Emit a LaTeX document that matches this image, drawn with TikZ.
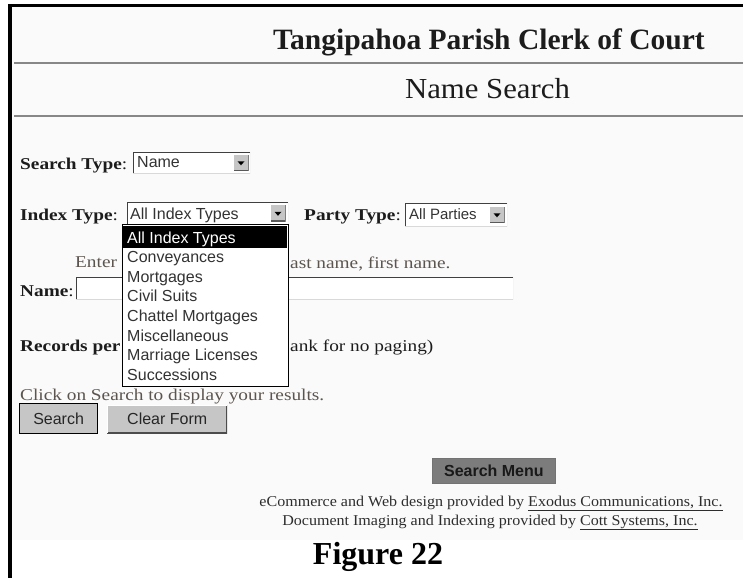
\documentclass[tikz,border=0pt]{standalone}
\usepackage{fontspec}
\setmainfont{Liberation Serif}
\newfontfamily\bodyf[FakeStretch=1.17]{Liberation Serif}
\newfontfamily\footf[FakeStretch=1.07]{Liberation Serif}
\newfontfamily\headf[FakeStretch=1.06]{Liberation Serif}
\newfontfamily\uisans{Liberation Sans}
\definecolor{scr}{RGB}{250,250,250}
\definecolor{hrc}{RGB}{135,135,135}
\definecolor{txt}{RGB}{28,28,28}
\definecolor{hint}{RGB}{92,84,78}
\definecolor{btn}{RGB}{198,198,198}
\definecolor{menubtn}{RGB}{124,124,124}
\definecolor{itemc}{RGB}{50,50,50}
\definecolor{footc}{RGB}{45,45,45}
\begin{document}
\begin{tikzpicture}[x=1pt,y=-1pt,
  lbl/.style={anchor=base west, inner sep=0, text=txt, font=\bodyf\fontsize{16.5}{18}\selectfont},
  hinttext/.style={lbl, text=hint},
  item/.style={anchor=base west, inner sep=0, text=itemc, font=\uisans\fontsize{16}{18}\selectfont},
  combo/.style={anchor=north west, fill=white, inner sep=0, draw=none,
    path picture={\draw[black!75,line width=1.6] (path picture bounding box.south west) -- (path picture bounding box.north west) -- (path picture bounding box.north east);
                  \draw[black!15,line width=1] (path picture bounding box.north east) -- (path picture bounding box.south east) -- (path picture bounding box.south west);}},
  arrowbtn/.style={fill=btn, inner sep=0, minimum width=15, minimum height=16,
    path picture={\draw[black!65,line width=1.2] (path picture bounding box.north east) -- (path picture bounding box.south east) -- (path picture bounding box.south west);
                  \fill[black, shift={(path picture bounding box.center)}] (-3.5,-1.2) -- (3.5,-1.2) -- (0,2.8) -- cycle;}},
  button/.style={fill=btn, inner sep=0, text=black!85, font=\uisans\fontsize{16}{18}\selectfont,
    path picture={\draw[black!70,line width=2] (path picture bounding box.north east) -- (path picture bounding box.south east) -- (path picture bounding box.south west);
                  \draw[white,line width=1.2] (path picture bounding box.south west) -- (path picture bounding box.north west) -- (path picture bounding box.north east);}},
  hrule/.style={hrc, line width=2.4}
]
\useasboundingbox (0,0) rectangle (743,578);
% page and frame
\fill[white] (0,0) rectangle (743,578);
\fill[scr] (12,7) rectangle (743,540);
\fill[black] (8,4) rectangle (743,7);
\fill[black] (8,4) rectangle (12,578);

% headings
\node[anchor=base, inner sep=0, text=txt, font=\bfseries\fontsize{29.5}{32}\selectfont] (title) at (489,49) {Tangipahoa Parish Clerk of Court};
\coordinate (h1a) at (14,63); \coordinate (h1b) at (743,63);
\draw[hrule] (h1a) -- (h1b);
\node[anchor=base, inner sep=0, text=txt, font=\headf\fontsize{29}{32}\selectfont] (subtitle) at (487.5,98) {Name Search};
\coordinate (h2a) at (14,116); \coordinate (h2b) at (743,116);
\draw[hrule] (h2a) -- (h2b);

% search type
\node[lbl] (stlbl) at (20,169) {\textbf{Search Type}:};
\node[combo, minimum width=117, minimum height=21] (stbox) at (133,152) {};
\node[item, text=black!80] (sttxt) at (137,167) {Name};
\node[arrowbtn] (starr) at (241,162.5) {};

% index type / party type
\node[lbl] (itlbl) at (20,220) {\textbf{Index Type}:};
\node[combo, minimum width=161, minimum height=22] (itbox) at (127,202) {};
\node[item, text=black!80] (ittxt) at (130,219) {All Index Types};
\node[arrowbtn] (itarr) at (278,213) {};

\node[lbl] (ptlbl) at (304,220) {\textbf{Party Type}:};
\node[combo, minimum width=102, minimum height=23] (ptbox) at (405,203) {};
\node[item, text=black!80, font=\uisans\fontsize{15}{17}\selectfont] (pttxt) at (409,219) {All Parties};
\node[arrowbtn] (ptarr) at (497,214.5) {};

% texts partly hidden behind the list
\node[hinttext] (enter1) at (75,267) {Enter};
\node[hinttext] (enter2) at (290,268) {ast name, first name.};
\node[lbl] (namelbl) at (20,296) {\textbf{Name}:};
\node[combo, minimum width=437, minimum height=22] (namebox) at (76,277) {};
\node[lbl] (reclbl) at (20,351) {\textbf{Records per}};
\node[lbl] (rectxt) at (290,351) {ank for no paging)};

% dropdown list
\node[anchor=north west, fill=white, draw=black, line width=1, inner sep=0, minimum width=166, minimum height=162] (list) at (122,224) {};
\fill[black] (123,226) rectangle (287,247.5);
\node[item, text=white] (i1) at (127,243) {All Index Types};
\node[item] (i2) at (127,262.6) {Conveyances};
\node[item] (i3) at (127,282.2) {Mortgages};
\node[item] (i4) at (127,301.8) {Civil Suits};
\node[item] (i5) at (127,321.4) {Chattel Mortgages};
\node[item] (i6) at (127,341) {Miscellaneous};
\node[item] (i7) at (127,360.6) {Marriage Licenses};
\node[item] (i8) at (127,380.2) {Successions};

% click text and buttons
\node[hinttext] (click) at (20,400) {Click on Search to display your results.};
\node[button, draw=black, line width=1.2, anchor=north west, minimum width=78, minimum height=30] (searchbtn) at (19,403) {Search};
\node[button, anchor=north west, minimum width=120, minimum height=28] (clearbtn) at (107,405) {Clear Form};

% search menu button
\node[anchor=north west, fill=menubtn, draw=black!55, line width=0.8, minimum width=123, minimum height=25, inner sep=0, text=black!90, font=\uisans\bfseries\fontsize{16}{18}\selectfont] (menubtn) at (432,458) {Search Menu};

% footer
\node[anchor=base, inner sep=0, text=footc, font=\footf\fontsize{15}{17}\selectfont] (foot1) at (491,506) {eCommerce and Web design provided by \underline{Exodus Communications, Inc.}};
\node[anchor=base, inner sep=0, text=footc, font=\footf\fontsize{15}{17}\selectfont] (foot2) at (490,525) {Document Imaging and Indexing provided by \underline{Cott Systems, Inc.}};

% caption
\node[anchor=base, inner sep=0, text=black, font=\bfseries\fontsize{32}{36}\selectfont] (caption) at (378,564) {Figure 22};
\end{tikzpicture}
\end{document}
